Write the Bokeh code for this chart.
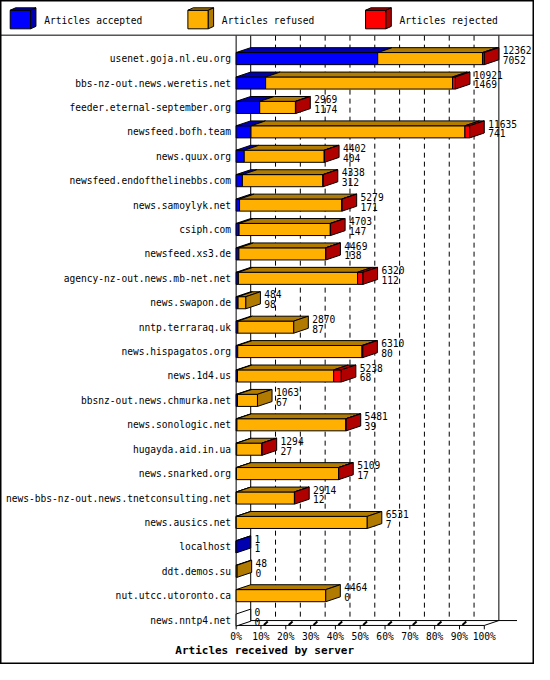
from bokeh.plotting import figure
from bokeh.models import Range1d, LinearAxis, FixedTicker, PrintfTickFormatter, CustomJSTickFormatter
from bokeh.core.properties import value
from bokeh.embed import file_html
from bokeh.resources import INLINE

# ---------------- data ----------------
hosts = [
    "usenet.goja.nl.eu.org", "bbs-nz-out.news.weretis.net", "feeder.eternal-september.org",
    "newsfeed.bofh.team", "news.quux.org", "newsfeed.endofthelinebbs.com", "news.samoylyk.net",
    "csiph.com", "newsfeed.xs3.de", "agency-nz-out.news.mb-net.net", "news.swapon.de",
    "nntp.terraraq.uk", "news.hispagatos.org", "news.1d4.us", "bbsnz-out.news.chmurka.net",
    "news.sonologic.net", "hugayda.aid.in.ua", "news.snarked.org",
    "news-bbs-nz-out.news.tnetconsulting.net", "news.ausics.net", "localhost", "ddt.demos.su",
    "nut.utcc.utoronto.ca", "news.nntp4.net",
]
offered = [12362, 10921, 2969, 11635, 4402, 4338, 5279, 4703, 4469, 6320, 484, 2870, 6310, 5238,
           1063, 5481, 1294, 5109, 2914, 6531, 1, 48, 4464, 0]
accepted = [7052, 1469, 1174, 741, 404, 312, 171, 147, 138, 112, 98, 87, 80, 68, 67, 39, 27, 17,
            12, 7, 1, 0, 0, 0]
refused = [5220, 9312, 1780, 10654, 3983, 4011, 5093, 4544, 4319, 5938, 386, 2783, 6190, 4790,
           996, 5430, 1257, 5082, 2892, 6524, 0, 48, 4464, 0]
rejected = [90, 140, 15, 240, 15, 15, 15, 12, 12, 270, 0, 0, 40, 380, 0, 12, 10, 10, 10, 0, 0,
            0, 0, 0]
series_names = ["Articles accepted", "Articles refused", "Articles rejected"]
pct_ticks = [0, 10, 20, 30, 40, 50, 60, 70, 80, 90, 100]
x_title = "Articles received by server"

# ---------------- styles / layout ----------------
FRONT = ["#0000FF", "#FFB000", "#FF0000"]
DARK = ["#0000B0", "#B07B00", "#B00000"]
FONT = "DejaVu Sans Mono"
FS = "9.6px"

W, H = 534, 664            # figure size
RW, RH = 550, 680          # reference layout grid
X0, PXP = 242.7, 2.556     # reference px of 0 %, px per %
Y0, ROW = 59.5, 25.0       # reference px of first row centre, row pitch


def rx(px):
    return (px - X0) / PXP


def ry(py):
    return (py - Y0) / ROW


DX = 15 / PXP
DY = -5 / ROW
HALF = 6.2 / ROW
TOP = ry(36)
FF = ry(640)          # floor front
FB = FF + DY          # floor back

p = figure(width=W, height=H, x_range=Range1d(rx(0), rx(RW)), y_range=Range1d(ry(RH), ry(0)),
           output_backend="svg", toolbar_location=None, x_axis_type=None, y_axis_type=None,
           min_border=0, title=None, background_fill_color="white",
           outline_line_color="black", outline_line_width=2)

# ---------------- walls / grid ----------------
gx = [t + DX for t in pct_ticks[1:-1]]
p.segment(x0=gx, y0=[TOP] * len(gx), x1=gx, y1=[FB] * len(gx), line_color="black",
          line_width=1, line_dash="5 4")
p.segment(x0=[0, DX, 100 + DX], y0=[TOP, TOP, TOP], x1=[0, DX, 100 + DX], y1=[FF, FB, FB],
          line_color="black", line_width=1)
p.segment(x0=[0, 100, DX, 0], y0=[FF, FF, FB, FF], x1=[100, 100 + DX, rx(532), DX],
          y1=[FF, FB, FB, FB], line_color="black", line_width=1)
# floor ticks
p.segment(x0=pct_ticks, y0=[FF] * len(pct_ticks), x1=pct_ticks,
          y1=[FF + 4 / ROW] * len(pct_ticks), line_color="black", line_width=1)
bt = pct_ticks[1:-1]
p.segment(x0=[t + 3 / PXP for t in bt], y0=[FF - 0.5 / ROW] * len(bt),
          x1=[t + 7 / PXP for t in bt], y1=[FB + 1 / ROW] * len(bt), line_color="black",
          line_width=2)

# ---------------- bars ----------------
xs, ys, cs = [], [], []
lab_x, lab_top_y, lab_bot_y, lab_top, lab_bot = [], [], [], [], []
max_total = max(a + r + j for a, r, j in zip(accepted, refused, rejected))
scale = 100.0 / max_total
for i in range(len(hosts)):
    vals = [accepted[i], refused[i], rejected[i]]
    yt, yb = i - HALF, i + HALF
    x = 0.0
    last = None
    for k, v in enumerate(vals):
        if v <= 0:
            continue
        x1 = x + v * scale
        xs.append([x, x1, x1, x]); ys.append([yt, yt, yb, yb]); cs.append(FRONT[k])
        xs.append([x, x1, x1 + DX, x + DX]); ys.append([yt, yt, yt + DY, yt + DY]); cs.append(DARK[k])
        x = x1
        last = k
    xs.append([x, x, x + DX, x + DX]); ys.append([yt, yb, yb + DY, yt + DY])
    cs.append(DARK[last] if last is not None else "white")
    lab_x.append(x + DX + 4 / PXP)
    lab_top_y.append(i - 8.5 / ROW)
    lab_bot_y.append(i + 1.5 / ROW)
    lab_top.append(str(offered[i]))
    lab_bot.append(str(accepted[i]))

p.patches(xs=xs, ys=ys, fill_color=cs, line_color="black", line_width=1, line_join="miter")
p.text(x=lab_x + lab_x, y=lab_top_y + lab_bot_y, text=lab_top + lab_bot, text_align="left",
       text_baseline="middle", text_font=value(FONT), text_font_size=FS, text_color="black")

# ---------------- axes ----------------
yax = LinearAxis(fixed_location=0, ticker=FixedTicker(ticks=list(range(len(hosts)))),
                 formatter=CustomJSTickFormatter(args=dict(names=hosts),
                                                 code="return names[Math.round(tick)] || '';"),
                 axis_line_color=None, major_tick_line_color=None, minor_tick_line_color=None,
                 major_tick_in=0, major_tick_out=0, major_label_standoff=5,
                 major_label_text_font=FONT, major_label_text_font_size=FS,
                 major_label_text_color="black")
p.add_layout(yax, "left")
xax = LinearAxis(fixed_location=FF, ticker=FixedTicker(ticks=pct_ticks),
                 formatter=PrintfTickFormatter(format="%d%%"),
                 axis_line_color=None, major_tick_line_color=None, minor_tick_line_color=None,
                 major_tick_in=0, major_tick_out=0, major_label_standoff=6,
                 major_label_text_font=FONT, major_label_text_font_size=FS,
                 major_label_text_color="black")
p.add_layout(xax, "below")

p.text(x=[rx(180)], y=[ry(666)], text=[x_title], text_align="left", text_baseline="middle",
       text_font=value(FONT), text_font_size="11px", text_font_style="bold", text_color="black")

# ---------------- legend ----------------
p.segment(x0=[rx(0)], y0=[ry(35.5)], x1=[rx(RW)], y1=[ry(35.5)], line_color="black", line_width=1)
lxs, lys, lcs = [], [], []
tx, ty = [], []
ldx, ldy = 5.5 / PXP, -2.5 / ROW
for k, name in enumerate(series_names):
    x0 = rx(10 + 183 * k)
    x1 = rx(31 + 183 * k)
    yt, yb = ry(10), ry(29)
    lxs.append([x0, x1, x1, x0]); lys.append([yt, yt, yb, yb]); lcs.append(FRONT[k])
    lxs.append([x0, x1, x1 + ldx, x0 + ldx]); lys.append([yt, yt, yt + ldy, yt + ldy]); lcs.append(DARK[k])
    lxs.append([x1, x1, x1 + ldx, x1 + ldx]); lys.append([yt, yb, yb + ldy, yt + ldy]); lcs.append(DARK[k])
    tx.append(rx(45 + 183 * k)); ty.append(ry(20))
p.patches(xs=lxs, ys=lys, fill_color=lcs, line_color="black", line_width=1, line_join="miter")
p.text(x=tx, y=ty, text=series_names, text_align="left", text_baseline="middle",
       text_font=value(FONT), text_font_size=FS, text_color="black")

open("out.html", "w").write(file_html(p, INLINE))
